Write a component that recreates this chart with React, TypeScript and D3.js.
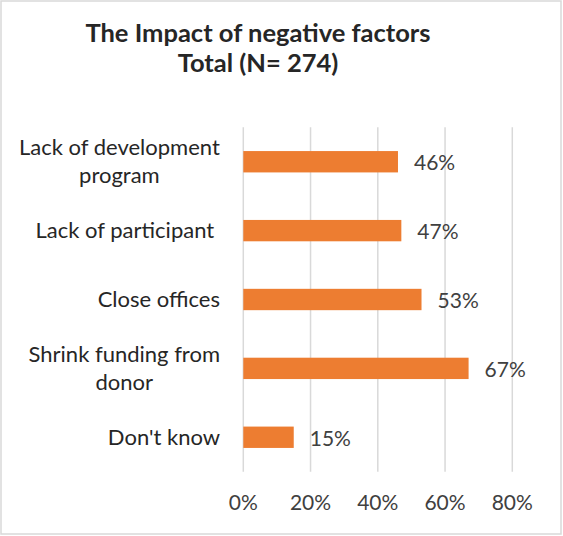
import React from "react";
import * as d3 from "d3";

const categories: string[][] = [
  ["Lack of development", "program"],
  ["Lack of participant "],
  ["Close offices"],
  ["Shrink funding from", "donor"],
  ["Don't know"],
];
const values: number[] = [46, 47, 53, 67, 15];
const ticks: number[] = [0, 20, 40, 60, 80];
const titleLines: string[] = ["The Impact of negative factors", "Total (N= 274)"];

const W = 563;
const H = 536;
const FONT = "Lato, 'Open Sans', sans-serif";
const CAT_SIZE = 22;
const VAL_SIZE = 21;

function measure(text: string, size: number, weight = "normal"): number {
  const c = document.createElement("canvas").getContext("2d");
  if (!c) return text.length * size * 0.5;
  c.font = `${weight} ${size}px Lato`;
  return c.measureText(text).width;
}

export default function App() {
  const x = d3.scaleLinear().domain([0, 80]).range([243.3, 512.3]);
  const y = d3
    .scaleBand<number>()
    .domain(d3.range(values.length))
    .range([127.3, 471.7])
    .paddingInner(0.69)
    .paddingOuter(0.345);
  const bh = y.bandwidth();
  const labelRight = 220;

  return (
    <svg
      width={W}
      height={H}
      style={{ position: "absolute", left: 0, top: 0, background: "#fff" }}
      fontFamily={FONT}
    >
      <rect x={1} y={1} width={560} height={533} fill="#fff" stroke="#d9d9d9" strokeWidth={1.5} />
      {titleLines.map((t, i) => (
        <text
          key={i}
          x={258}
          y={41.5 + i * 30}
          textAnchor="middle"
          fontSize={25.5}
          fontWeight="bold"
          fill="#262626"
        >
          {t}
        </text>
      ))}
      {ticks.map((t) => (
        <line key={t} x1={x(t)} x2={x(t)} y1={127.3} y2={471.7} stroke="#d9d9d9" strokeWidth={1.5} />
      ))}
      {values.map((v, i) => (
        <rect key={i} x={x(0)} y={(y(i) as number)} width={x(v) - x(0)} height={bh} fill="#ED7D31" />
      ))}
      {values.map((v, i) => (
        <text
          key={i}
          x={x(v) + 16}
          y={(y(i) as number) + bh / 2 + 8.5}
          fontSize={VAL_SIZE}
          fill="#404040"
        >
          {v}%
        </text>
      ))}
      {categories.map((lines, i) => {
        const maxW = Math.max(...lines.map((l) => measure(l, CAT_SIZE)));
        const cx = labelRight - maxW / 2;
        const lh = 27.6;
        const cy = (y(i) as number) + bh / 2;
        const y0 = cy - ((lines.length - 1) * lh) / 2 + 7.5;
        return lines.map((l, j) => (
          <text
            key={`${i}-${j}`}
            x={cx}
            y={y0 + j * lh}
            textAnchor="middle"
            fontSize={CAT_SIZE}
            fill="#262626"
            style={{ whiteSpace: "pre" }}
          >
            {l}
          </text>
        ));
      })}
      {ticks.map((t) => (
        <text key={t} x={x(t)} y={510} textAnchor="middle" fontSize={VAL_SIZE} fill="#404040">
          {t}%
        </text>
      ))}
    </svg>
  );
}
